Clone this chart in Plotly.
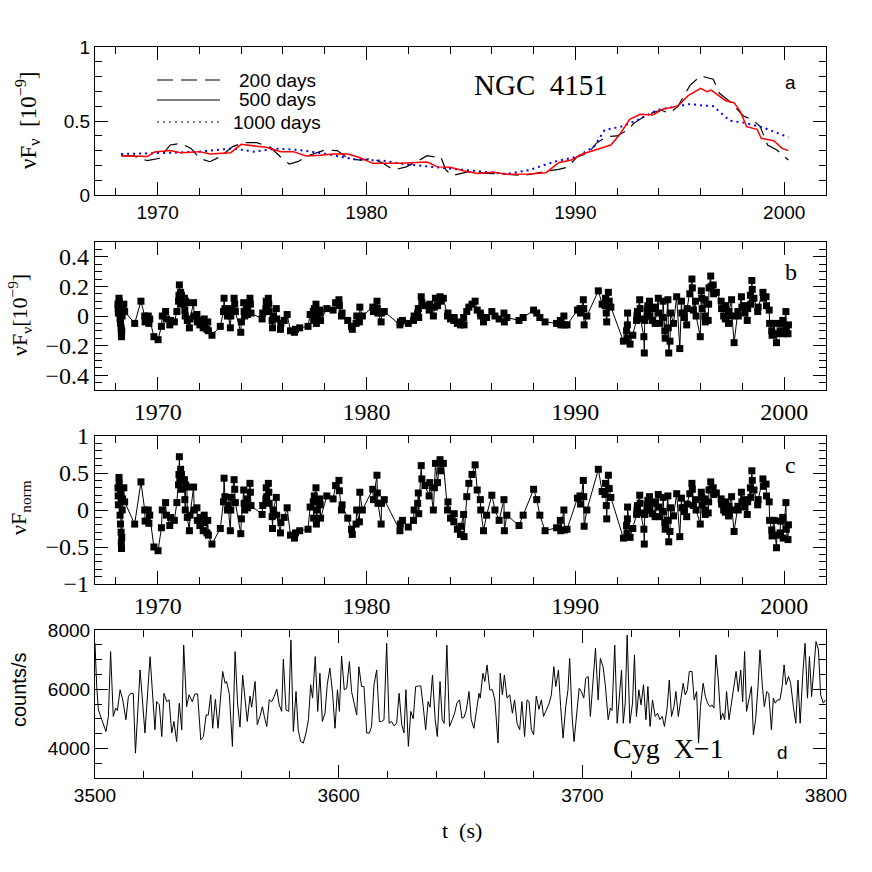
import plotly.graph_objects as go

# ---------------- Panel a: smoothed NGC 4151 light curves ----------------
yrs_200 = [1968.25, 1968.85, 1969.5, 1970.1, 1970.6, 1971.1, 1971.6, 1972.0, 1972.5, 1973.0,
           1973.6, 1974.1, 1974.75, 1975.4, 1975.9, 1976.3, 1976.7, 1977.3, 1978.0, 1978.6,
           1979.1, 1979.7, 1980.3, 1980.8, 1981.3, 1981.9, 1982.4, 1982.9, 1983.4, 1983.55,
           1983.8, 1984.1, 1984.9, 1985.7, 1986.5, 1987.5, 1988.5, 1989.2, 1989.6, 1990.1,
           1990.6, 1991.0, 1991.5, 1992.0, 1992.5, 1992.8, 1993.4, 1994.1, 1994.5, 1994.9,
           1995.5, 1996.0, 1996.6, 1996.9, 1997.4, 1998.05, 1998.5, 1998.85, 1999.2, 1999.65,
           2000.2]
flux_200 = [0.264, 0.264, 0.232, 0.248, 0.338, 0.349, 0.315, 0.248, 0.225, 0.259,
            0.327, 0.354, 0.354, 0.322, 0.255, 0.209, 0.225, 0.27, 0.304, 0.30,
            0.248, 0.236, 0.248, 0.214, 0.169, 0.19, 0.225, 0.266, 0.255, 0.259,
            0.169, 0.131, 0.158, 0.146, 0.142, 0.131, 0.158, 0.173, 0.187, 0.259,
            0.282, 0.349, 0.394, 0.399, 0.439, 0.484, 0.541, 0.574, 0.552, 0.597,
            0.743, 0.804, 0.782, 0.687, 0.631, 0.534, 0.507, 0.462, 0.338, 0.304,
            0.236]

yrs_500 = [1968.25, 1969.5, 1969.85, 1970.6, 1971.1, 1972.0, 1972.5, 1973.5, 1974.0, 1974.6,
           1975.2, 1975.9, 1976.5, 1977.1, 1977.8, 1978.4, 1979.1, 1979.7, 1980.3, 1981.6,
           1982.1, 1982.9, 1983.4, 1984.0, 1984.65, 1985.3, 1986.1, 1986.7, 1987.8, 1988.6,
           1989.2, 1989.8, 1990.3, 1991.0, 1991.7, 1992.1, 1992.6, 1993.1, 1993.7, 1994.2,
           1994.9, 1995.4, 1996.0, 1996.3, 1996.5, 1997.2, 1997.6, 1997.9, 1998.2, 1998.7,
           1998.9, 1999.5, 1999.9, 2000.2]
flux_500 = [0.266, 0.26, 0.29, 0.30, 0.286, 0.293, 0.277, 0.286, 0.342, 0.333,
            0.322, 0.293, 0.293, 0.264, 0.268, 0.277, 0.277, 0.252, 0.214, 0.214,
            0.218, 0.223, 0.19, 0.187, 0.164, 0.146, 0.153, 0.14, 0.142, 0.151,
            0.218, 0.236, 0.275, 0.304, 0.338, 0.405, 0.511, 0.545, 0.541, 0.581,
            0.60, 0.671, 0.72, 0.698, 0.709, 0.637, 0.624, 0.563, 0.462, 0.444,
            0.383, 0.367, 0.315, 0.30]

yrs_1000 = [1968.25, 1969.5, 1970.8, 1972.0, 1973.6, 1974.6, 1975.7, 1976.8, 1978.1, 1979.4,
            1980.8, 1981.9, 1983.5, 1984.0, 1985.45, 1986.7, 1987.8, 1989.0, 1990.1, 1990.9,
            1991.4, 1992.2, 1993.0, 1993.9, 1994.9, 1995.5, 1996.0, 1996.6, 1997.4, 1998.05,
            1999.0, 2000.2]
flux_1000 = [0.277, 0.28, 0.286, 0.293, 0.315, 0.293, 0.313, 0.304, 0.277, 0.241,
             0.232, 0.207, 0.187, 0.18, 0.158, 0.142, 0.169, 0.225, 0.259, 0.327,
             0.439, 0.462, 0.507, 0.574, 0.60, 0.615, 0.606, 0.60, 0.502, 0.489,
             0.455, 0.39]

legend_labels = ["200 days", "500 days", "1000 days"]

# ---------------- Panels b, c: residual and normalised residual ----------------
obs_year = [
    1968.10, 1968.11, 1968.12, 1968.15, 1968.16, 1968.20, 1968.21, 1968.22, 1968.25, 1968.26, 1968.27, 1968.28, 1968.30, 1968.32, 1968.38, 1968.42, 1968.90,
    1969.20, 1969.38, 1969.40, 1969.55, 1969.58, 1969.62, 1969.82, 1970.02, 1970.18, 1970.22, 1970.38, 1970.42, 1970.58, 1970.62, 1970.80, 1970.92,
    1971.00, 1971.02, 1971.04, 1971.06, 1971.10, 1971.12, 1971.14, 1971.28, 1971.30, 1971.32, 1971.34, 1971.40, 1971.42, 1971.52, 1971.55, 1971.72, 1971.75, 1971.88, 1971.90,
    1972.02, 1972.05, 1972.18, 1972.20, 1972.23, 1972.36, 1972.40, 1972.43, 1972.60, 1973.00, 1973.15, 1973.18, 1973.22, 1973.34, 1973.37, 1973.48, 1973.50, 1973.53, 1973.66, 1973.69, 1973.72,
    1973.98, 1974.01, 1974.12, 1974.14, 1974.17, 1974.28, 1974.30, 1974.42, 1974.44, 1974.47, 1975.00, 1975.03, 1975.18, 1975.20, 1975.22, 1975.30, 1975.32, 1975.34, 1975.48, 1975.50, 1975.53, 1975.68, 1975.70, 1975.88, 1975.90,
    1976.06, 1976.20, 1976.36, 1976.55, 1976.60, 1976.80, 1977.20, 1977.30, 1977.45, 1977.47, 1977.50, 1977.58, 1977.60, 1977.63, 1977.76, 1977.78, 1977.80,
    1978.10, 1978.40, 1978.52, 1978.68, 1978.70, 1978.80, 1978.83, 1979.10, 1979.28, 1979.32, 1979.50, 1979.53, 1979.66, 1979.68, 1979.80,
    1980.30, 1980.33, 1980.50, 1980.52, 1980.55, 1980.70, 1980.72, 1980.85, 1981.60, 1981.62, 1981.72, 1982.00, 1982.25, 1982.28, 1982.45, 1982.48, 1982.50, 1982.62, 1982.65, 1982.80,
    1983.00, 1983.03, 1983.20, 1983.25, 1983.30, 1983.40, 1983.52, 1983.55, 1983.68, 1983.88, 1983.90, 1984.02, 1984.18, 1984.20, 1984.35, 1984.50, 1984.52, 1984.65, 1984.67, 1984.80, 1984.90,
    1985.05, 1985.20, 1985.30, 1985.45, 1985.47, 1985.60, 1985.75, 1986.00, 1986.15, 1986.35, 1986.58, 1986.60, 1986.72, 1987.30, 1987.50, 1988.00, 1988.15, 1988.30, 1988.55, 1989.10, 1989.28, 1989.30, 1989.45, 1989.48, 1989.60,
    1990.10, 1990.22, 1990.25, 1990.38, 1990.40, 1990.42, 1990.55, 1991.10, 1991.28, 1991.42, 1991.44, 1991.48, 1991.50, 1991.58, 1991.62, 1991.70,
    1992.30, 1992.45, 1992.47, 1992.49, 1992.50, 1992.62, 1992.75, 1992.93, 1992.95, 1992.97, 1993.08, 1993.10, 1993.12, 1993.28, 1993.30, 1993.32, 1993.43, 1993.45, 1993.47, 1993.55, 1993.57, 1993.68, 1993.70, 1993.80, 1993.82, 1993.97, 1993.99,
    1994.05, 1994.18, 1994.20, 1994.28, 1994.30, 1994.43, 1994.45, 1994.47, 1994.53, 1994.56, 1994.70, 1994.85, 1995.00, 1995.08, 1995.10, 1995.20, 1995.22, 1995.33, 1995.35, 1995.48, 1995.58, 1995.60, 1995.65, 1995.75, 1995.78, 1995.98,
    1996.03, 1996.05, 1996.07, 1996.18, 1996.20, 1996.22, 1996.36, 1996.38, 1996.40, 1996.48, 1996.50, 1996.60, 1996.62, 1996.75, 1996.98, 1997.00, 1997.08, 1997.10, 1997.18, 1997.20, 1997.33, 1997.35, 1997.48, 1997.50, 1997.60, 1997.78, 1997.80, 1997.95, 1997.97,
    1998.10, 1998.12, 1998.23, 1998.25, 1998.38, 1998.40, 1998.45, 1998.47, 1998.55, 1998.73, 1998.75, 1998.98, 1999.00, 1999.13, 1999.15, 1999.28, 1999.30, 1999.40, 1999.42, 1999.50, 1999.63, 1999.65, 1999.80, 1999.82, 1999.93, 1999.95, 2000.08, 2000.10, 2000.18, 2000.20,
]
resid_flux = [
    0.08, 0.05, 0.02, 0.12, 0.10, -0.02, 0.06, -0.05, -0.08, -0.12, -0.14, -0.10, 0.00, 0.04, 0.08, 0.03, -0.05,
    0.10, 0.00, -0.04, 0.00, -0.05, -0.02, -0.14, -0.16, -0.07, 0.00, 0.03, -0.02, -0.06, -0.03, -0.04, 0.03,
    0.10, 0.14, 0.21, 0.12, 0.16, 0.08, 0.14, 0.12, 0.04, 0.00, 0.10, 0.09, -0.03, -0.08, -0.02, 0.09, 0.00, 0.01, -0.04,
    -0.06, -0.03, -0.08, -0.05, -0.02, -0.09, -0.04, -0.10, -0.13, -0.07, 0.03, 0.12, 0.05, 0.00, 0.02, -0.08, 0.00, 0.05, 0.12, 0.08, 0.03,
    -0.11, -0.04, 0.09, 0.03, 0.00, 0.05, 0.01, 0.12, 0.08, 0.02, -0.02, 0.02, 0.05, 0.10, 0.06, 0.12, 0.08, 0.03, -0.03, -0.08, 0.00, 0.05, -0.02, -0.09, -0.05,
    -0.03, 0.01, -0.10, -0.11, -0.09, -0.08, -0.07, 0.01, 0.03, -0.03, 0.05, 0.08, -0.05, 0.00, 0.04, 0.02, -0.03,
    0.05, 0.04, 0.09, 0.11, 0.07, 0.00, 0.02, -0.03, -0.07, -0.09, -0.05, 0.00, -0.04, 0.06, 0.00,
    0.06, 0.03, 0.10, 0.05, 0.02, -0.04, 0.02, 0.03, -0.06, -0.04, -0.03, -0.05, -0.03, 0.00, 0.02, 0.05, -0.01, 0.13, 0.09, 0.07,
    0.04, 0.08, 0.00, 0.06, 0.12, 0.07, 0.13, 0.10, 0.12, 0.00, 0.02, -0.02, -0.03, -0.01, -0.05, -0.06, -0.04, -0.01, -0.06, 0.03, 0.06,
    0.08, 0.10, 0.04, 0.02, 0.00, -0.04, -0.01, 0.03, 0.00, -0.02, 0.02, -0.04, -0.01, -0.03, -0.01, 0.04, 0.02, -0.01, -0.04, -0.05, -0.03, -0.06, 0.00, -0.06, -0.06,
    0.04, 0.05, 0.02, 0.11, 0.05, -0.06, 0.00, 0.17, 0.08, 0.07, 0.12, 0.02, -0.04, 0.16, 0.10, 0.06,
    -0.17, -0.10, -0.15, -0.06, 0.02, -0.19, -0.13, -0.03, 0.00, 0.03, 0.11, 0.05, -0.02, -0.14, -0.25, -0.03, 0.00, 0.04, 0.07, 0.10, 0.00, -0.03, 0.05, 0.06, -0.05, 0.12, 0.02,
    -0.05, -0.01, 0.10, -0.10, -0.15, 0.11, -0.08, -0.25, -0.17, 0.02, -0.05, 0.13, -0.22, 0.10, 0.02, 0.02, -0.01, -0.06, 0.05, 0.15, 0.25, 0.19, 0.04, 0.10, 0.00, -0.14,
    0.17, 0.12, 0.05, 0.11, 0.00, -0.04, -0.03, 0.08, 0.19, 0.27, 0.20, 0.21, 0.15, 0.16, 0.10, 0.05, 0.05, 0.00, -0.02, 0.07, -0.05, 0.03, 0.11, 0.00, -0.18, 0.03, 0.00, 0.13, 0.06,
    0.07, 0.02, -0.03, 0.05, 0.14, 0.08, 0.24, 0.18, 0.12, 0.03, 0.06, 0.16, 0.12, 0.13, 0.07, 0.04, -0.05, -0.10, -0.13, -0.05, -0.18, -0.12, -0.10, -0.05, -0.03, -0.12, 0.03, -0.08, -0.12, -0.06,
]
norm_flux = [
    0.30, 0.19, 0.07, 0.44, 0.37, -0.07, 0.22, -0.19, -0.30, -0.44, -0.52, -0.37, 0.00, 0.15, 0.30, 0.11, -0.19,
    0.38, 0.00, -0.15, 0.00, -0.18, -0.07, -0.50, -0.55, -0.24, 0.00, 0.10, -0.07, -0.21, -0.10, -0.14, 0.10,
    0.34, 0.48, 0.72, 0.41, 0.55, 0.28, 0.48, 0.41, 0.14, 0.00, 0.34, 0.31, -0.10, -0.28, -0.07, 0.31, 0.00, 0.03, -0.14,
    -0.21, -0.10, -0.28, -0.17, -0.07, -0.31, -0.14, -0.34, -0.46, -0.25, 0.11, 0.43, 0.18, 0.00, 0.07, -0.28, 0.00, 0.17, 0.41, 0.28, 0.10,
    -0.32, -0.12, 0.27, 0.09, 0.00, 0.15, 0.03, 0.36, 0.24, 0.06, -0.06, 0.06, 0.15, 0.30, 0.18, 0.36, 0.24, 0.09, -0.09, -0.25, 0.00, 0.17, -0.07, -0.31, -0.17,
    -0.10, 0.03, -0.34, -0.38, -0.31, -0.28, -0.26, 0.04, 0.11, -0.11, 0.19, 0.30, -0.19, 0.00, 0.15, 0.07, -0.11,
    0.19, 0.15, 0.33, 0.40, 0.26, 0.00, 0.07, -0.11, -0.26, -0.33, -0.19, 0.00, -0.16, 0.24, 0.00,
    0.28, 0.14, 0.47, 0.23, 0.09, -0.19, 0.09, 0.14, -0.28, -0.19, -0.14, -0.23, -0.14, 0.00, 0.09, 0.23, -0.05, 0.60, 0.42, 0.33,
    0.19, 0.37, 0.00, 0.30, 0.63, 0.37, 0.68, 0.53, 0.63, 0.00, 0.11, -0.11, -0.16, -0.05, -0.26, -0.33, -0.22, -0.06, -0.36, 0.18, 0.36,
    0.48, 0.61, 0.27, 0.14, 0.00, -0.28, -0.07, 0.20, 0.00, -0.14, 0.14, -0.28, -0.07, -0.21, -0.07, 0.28, 0.14, -0.07, -0.28, -0.24, -0.14, -0.28, 0.00, -0.27, -0.26,
    0.16, 0.19, 0.08, 0.40, 0.18, -0.22, 0.00, 0.55, 0.25, 0.21, 0.36, 0.06, -0.12, 0.47, 0.29, 0.17,
    -0.38, -0.21, -0.31, -0.12, 0.04, -0.37, -0.25, -0.06, 0.00, 0.06, 0.20, 0.09, -0.04, -0.26, -0.46, -0.06, 0.00, 0.07, 0.13, 0.18, 0.00, -0.05, 0.09, 0.11, -0.09, 0.21, 0.04,
    -0.09, -0.02, 0.17, -0.17, -0.26, 0.19, -0.14, -0.43, -0.29, 0.03, -0.08, 0.22, -0.36, 0.16, 0.03, 0.03, -0.02, -0.09, 0.08, 0.22, 0.36, 0.28, 0.06, 0.14, 0.00, -0.19,
    0.24, 0.17, 0.07, 0.15, 0.00, -0.06, -0.04, 0.11, 0.27, 0.38, 0.28, 0.30, 0.21, 0.23, 0.15, 0.08, 0.08, 0.00, -0.03, 0.11, -0.08, 0.05, 0.18, 0.00, -0.29, 0.05, 0.00, 0.24, 0.11,
    0.14, 0.04, -0.06, 0.11, 0.30, 0.17, 0.53, 0.40, 0.27, 0.07, 0.14, 0.42, 0.32, 0.35, 0.19, 0.11, -0.14, -0.27, -0.35, -0.14, -0.51, -0.34, -0.31, -0.15, -0.10, -0.38, 0.10, -0.26, -0.40, -0.20,
]

# ---------------- Panel d: Cyg X-1 count rate ----------------
cyg_time_1 = [
    3500.0, 3500.7, 3501.4, 3502.7, 3504.5, 3505.5, 3506.4, 3507.5, 3508.5, 3509.2,
    3510.3, 3511.4, 3512.7, 3513.7, 3514.6, 3515.7, 3516.6, 3518.5, 3520.5, 3522.6,
    3524.6, 3525.3, 3526.4, 3527.4, 3528.3, 3529.4, 3530.4, 3531.5, 3532.4, 3533.5,
    3534.6, 3535.6, 3536.4, 3537.6, 3538.6, 3539.9, 3541.0, 3542.1, 3543.4, 3544.5,
    3545.6, 3546.5, 3547.5, 3548.3, 3549.4, 3550.5, 3552.4, 3553.4, 3554.0, 3555.1,
    3556.4, 3557.5, 3558.5, 3559.5, 3560.6, 3561.6, 3562.5, 3563.6, 3564.3, 3565.7,
    3566.6, 3567.7, 3568.7, 3569.5, 3570.5, 3571.5, 3572.5, 3573.5, 3574.6, 3575.6,
    3576.6, 3577.3, 3578.4, 3579.5, 3580.4, 3581.4, 3582.5, 3583.4, 3584.4, 3585.5,
    3586.6, 3587.6, 3588.5, 3589.3, 3590.4, 3591.4, 3592.3, 3593.3, 3594.4, 3595.3,
    3596.4, 3597.5, 3598.5, 3599.5, 3600.3, 3601.2, 3602.3, 3603.3, 3604.4, 3605.3,
    3606.3, 3607.4, 3608.3, 3609.4, 3610.4, 3611.5, 3612.6, 3613.5, 3614.5, 3615.6,
    3616.7, 3617.6, 3618.6, 3619.7, 3620.7, 3621.7, 3622.7, 3623.8, 3624.8, 3625.9,
    3626.8, 3627.6, 3628.6, 3629.6, 3630.6, 3631.6, 3632.7, 3633.7, 3634.7, 3635.7,
    3636.7, 3637.5, 3638.5, 3639.6, 3640.5, 3641.6,
]
cyg_rate_1 = [
    7550, 6090, 5300, 4970, 4570, 5080, 7270, 5080, 5360, 5280,
    5980, 5640, 4970, 5750, 5860, 5860, 3840, 6650, 4520, 7100,
    4630, 5580, 5470, 4400, 5860, 5580, 5640, 4520, 4910, 4230,
    5530, 4630, 7490, 5410, 5810, 5580, 5840, 5840, 4290, 4400,
    5130, 5130, 5810, 4680, 5660, 4680, 6600, 6200, 6260, 5860,
    4070, 7270, 5530, 4720, 6480, 5640, 4910, 5770, 5390, 6260,
    4800, 5080, 5410, 5080, 4740, 5640, 5580, 5750, 6000, 5470,
    5250, 7010, 5300, 5250, 7660, 4570, 5920, 4630, 4230, 4180,
    4520, 4970, 6150, 5700, 7100, 5250, 6540, 4910, 5190, 6150,
    6710, 5860, 4680, 5980, 5250, 7120, 5980, 6030, 6930, 5920,
    5580, 5130, 6760, 6090, 6090, 4520, 4520, 4740, 6150, 6650,
    4910, 4910, 4970, 7550, 4850, 4910, 4760, 4850, 5860, 4800,
    4520, 5980, 4070, 5250, 5000, 6090, 6110, 6110, 5410, 4630,
    5580, 5390, 6480, 4970, 4400, 6260,
]
cyg_time_2 = [
    3642.5, 3643.3, 3644.4, 3645.5, 3646.6, 3647.6, 3648.5, 3649.6, 3650.6, 3651.5,
    3652.4, 3653.5, 3654.4, 3655.5, 3656.5, 3657.6, 3658.1, 3659.2, 3660.0, 3660.9,
    3662.0, 3663.1, 3664.1, 3665.4, 3666.3, 3667.2, 3668.0, 3669.1, 3670.2, 3671.3,
    3672.2, 3673.2, 3674.3, 3675.2, 3676.3, 3677.3, 3678.1, 3679.1, 3680.0, 3681.1,
    3682.2, 3683.2, 3684.1, 3685.2, 3686.3, 3687.3, 3688.3, 3689.1, 3690.2, 3691.1,
    3692.1, 3693.2, 3694.1, 3694.8, 3695.8, 3696.6, 3697.7, 3698.7, 3699.6, 3700.6,
    3701.4, 3702.4, 3703.3, 3704.4, 3705.4, 3706.5, 3707.4, 3708.5, 3709.5, 3710.6,
    3711.5, 3712.2, 3713.3, 3714.3, 3715.1, 3716.1, 3716.8, 3717.6, 3718.4, 3719.5,
    3720.6, 3721.4, 3722.2, 3723.2, 3724.1, 3725.1, 3726.1, 3726.9, 3727.8, 3728.8,
    3729.9, 3730.9, 3731.8, 3732.8, 3733.7, 3734.8, 3735.7, 3736.6, 3737.6, 3738.4,
    3739.4, 3740.3, 3741.4, 3742.2, 3743.1, 3743.9, 3745.0, 3745.9, 3746.9, 3747.7,
    3748.5, 3749.6, 3750.5, 3751.4, 3752.4, 3753.2, 3754.0, 3754.8, 3755.8, 3756.8,
    3757.6, 3758.4, 3759.2, 3760.2, 3761.1, 3762.0, 3763.1, 3764.0, 3765.0, 3765.8,
    3766.6, 3767.4, 3768.4, 3769.4, 3770.2, 3771.1, 3772.1, 3772.9, 3773.9, 3774.7,
    3775.7, 3776.5, 3777.6, 3778.4, 3779.2, 3780.0, 3781.1, 3782.0, 3782.8, 3783.6,
    3784.6, 3785.5, 3786.6, 3787.6, 3788.5, 3789.4, 3790.5, 3791.4, 3792.4, 3793.2,
    3794.1, 3795.1, 3795.9, 3796.9, 3797.8, 3798.9, 3799.8,
]
cyg_rate_2 = [
    4970, 4850, 7490, 4740, 4970, 5190, 5530, 5640, 5020, 5060,
    5300, 5920, 4970, 4680, 5250, 5860, 5700, 6540, 6260, 6820,
    5980, 5980, 5640, 4180, 6540, 5810, 6480, 5700, 5810, 5190,
    5640, 4850, 4630, 5580, 4400, 5640, 5580, 4630, 4460, 5770,
    5320, 5640, 5080, 5300, 5500, 5810, 6760, 6090, 6650, 5410,
    4350, 5410, 5980, 7040, 5080, 4230, 5130, 6030, 5920, 5700,
    6370, 6430, 5080, 6480, 7380, 5640, 7040, 6760, 6090, 4970,
    5360, 5280, 7490, 4850, 5750, 6650, 4850, 5530, 7830, 4850,
    5530, 7160, 5080, 5980, 5470, 6150, 4970, 6090, 4740, 5640,
    5080, 5190, 4970, 5080, 4740, 5360, 6310, 5080, 5410, 5920,
    5080, 5640, 6200, 5810, 5980, 6600, 6600, 5640, 5920, 4180,
    5410, 6200, 5750, 5530, 5410, 5470, 5360, 7160, 6310, 4970,
    5190, 4970, 5920, 4970, 5530, 6090, 6600, 5920, 6650, 5580,
    7270, 5250, 5640, 6090, 4460, 4970, 6090, 7330, 6090, 5410,
    5920, 5860, 4630, 5700, 5530, 5640, 5640, 6090, 6820, 6150,
    6430, 6200, 5410, 4850, 6310, 4850, 6540, 7550, 5700, 7100,
    5750, 6760, 7610, 7330, 5810, 5530, 5640,
]

# ---------------- Layout geometry (pixels of the 872x872 canvas) ----------------
W = H = 872
ML, MR, MT, MB = 95, 46, 47, 94
PW, PH = W - ML - MR, H - MT - MB


def fx(p):
    return (p - ML) / PW


def fy(p):
    return (H - MB - p) / PH


SANS = "Liberation Sans, Arial, Helvetica, sans-serif"
SERIF = "Liberation Serif, Times New Roman, serif"

fig = go.Figure()

# Panel a
fig.add_trace(go.Scatter(x=yrs_200, y=flux_200, mode="lines", xaxis="x", yaxis="y",
                         line=dict(color="black", width=1.2, dash="16px,8px"), showlegend=False))
fig.add_trace(go.Scatter(x=yrs_1000, y=flux_1000, mode="lines", xaxis="x", yaxis="y",
                         line=dict(color="blue", width=2, dash="2px,4px"), showlegend=False))
fig.add_trace(go.Scatter(x=yrs_500, y=flux_500, mode="lines", xaxis="x", yaxis="y",
                         line=dict(color="red", width=1.5), showlegend=False))
# Panel b
fig.add_trace(go.Scatter(x=obs_year, y=resid_flux, mode="lines+markers", xaxis="x2", yaxis="y2",
                         line=dict(color="black", width=1),
                         marker=dict(symbol="square", size=7, color="black"), showlegend=False))
# Panel c
fig.add_trace(go.Scatter(x=obs_year, y=norm_flux, mode="lines+markers", xaxis="x3", yaxis="y3",
                         line=dict(color="black", width=1),
                         marker=dict(symbol="square", size=7, color="black"), showlegend=False))
# Panel d
fig.add_trace(go.Scatter(x=cyg_time_1 + cyg_time_2, y=cyg_rate_1 + cyg_rate_2, mode="lines",
                         xaxis="x4", yaxis="y4", line=dict(color="black", width=1), showlegend=False))


def axis(domain, anchor, rng, dtick, minor_dtick, tickfont, tick0=None, tickvals=None):
    d = dict(domain=domain, anchor=anchor, range=rng, dtick=dtick,
             showline=True, linecolor="black", linewidth=1.2, mirror="allticks",
             ticks="inside", ticklen=13, tickwidth=1, tickcolor="black",
             showgrid=False, zeroline=False, tickfont=tickfont,
             minor=dict(ticks="inside", ticklen=7, tickwidth=1, tickcolor="black",
                        dtick=minor_dtick, showgrid=False))
    if tick0 is not None:
        d["tick0"] = tick0
    if tickvals is not None:
        d["tickmode"] = "array"
        d["tickvals"] = tickvals
    return d


sans_f = dict(family=SANS, size=19, color="black")
serif_f = dict(family=SERIF, size=24, color="black")

dom_a = [fy(195), fy(47)]
dom_b = [fy(390), fy(242)]
dom_c = [fy(584), fy(436)]
dom_d = [fy(778), fy(630)]
xdom = [0, 1]

fig.update_layout(
    width=W, height=H, margin=dict(l=ML, r=MR, t=MT, b=MB),
    paper_bgcolor="white", plot_bgcolor="white", showlegend=False,
    xaxis=axis(xdom, "y", [1967, 2002], 10, 2, sans_f, tick0=1970),
    yaxis=axis(dom_a, "x", [0, 1], 0.5, 0.1, sans_f, tick0=0),
    xaxis2=axis(xdom, "y2", [1967, 2002], 10, 2, serif_f, tick0=1970),
    yaxis2=axis(dom_b, "x2", [-0.5, 0.5], 0.2, 0.05, serif_f, tickvals=[-0.4, -0.2, 0, 0.2, 0.4]),
    xaxis3=axis(xdom, "y3", [1967, 2002], 10, 2, serif_f, tick0=1970),
    yaxis3=axis(dom_c, "x3", [-1, 1], 0.5, 0.1, serif_f, tick0=0),
    xaxis4=axis(xdom, "y4", [3500, 3800], 100, 20, sans_f, tick0=3500),
    yaxis4=axis(dom_d, "x4", [3000, 8000], 2000, 500, sans_f, tickvals=[4000, 6000, 8000]),
)
fig.layout.yaxis2.minor.tick0 = 0
fig.layout.yaxis4.minor.tick0 = 3000

ann = []


def text(x, y, s, font, angle=0):
    ann.append(dict(xref="paper", yref="paper", x=fx(x), y=fy(y), text=s, showarrow=False,
                    xanchor="center", yanchor="middle", textangle=angle, font=font))


# axis titles
text(28, 121, "νF<sub>ν</sub>  [10<sup>−9</sup>]", dict(family=SERIF, size=23, color="black"), -90)
text(19, 315, "νF<sub>ν</sub>[10<sup>−9</sup>]", dict(family=SERIF, size=22, color="black"), -90)
text(20, 508, "νF<sub>norm</sub>", dict(family=SERIF, size=22, color="black"), -90)
text(19, 690, "counts/s", dict(family=SANS, size=20, color="black"), -90)
text(462, 830, "t  (s)", dict(family=SERIF, size=22, color="black"))

# panel labels and object names
text(541, 85, "NGC  4151", dict(family=SERIF, size=29, color="black"))
text(668, 748, "Cyg  X−1", dict(family=SERIF, size=28, color="black"))
text(790, 82, "a", dict(family=SANS, size=19, color="black"))
text(791, 272, "b", dict(family=SERIF, size=24, color="black"))
text(790, 465, "c", dict(family=SERIF, size=24, color="black"))
text(782, 752, "d", dict(family=SANS, size=19, color="black"))

# legend of panel a
legend_y = [80, 100, 122]
legend_dash = ["16px,8px", "solid", "2px,4px"]
shapes = []
for lab, ly, dsh in zip(legend_labels, legend_y, legend_dash):
    shapes.append(dict(type="line", xref="paper", yref="paper", x0=fx(157), x1=fx(220),
                       y0=fy(ly), y1=fy(ly), line=dict(color="black", width=1.2, dash=dsh)))
    text(277, ly, lab, dict(family=SANS, size=19, color="black"))

fig.update_layout(annotations=ann, shapes=shapes)

fig.write_html("out.html", config={"displayModeBar": False},
               post_script="document.body.style.margin='0px';")
